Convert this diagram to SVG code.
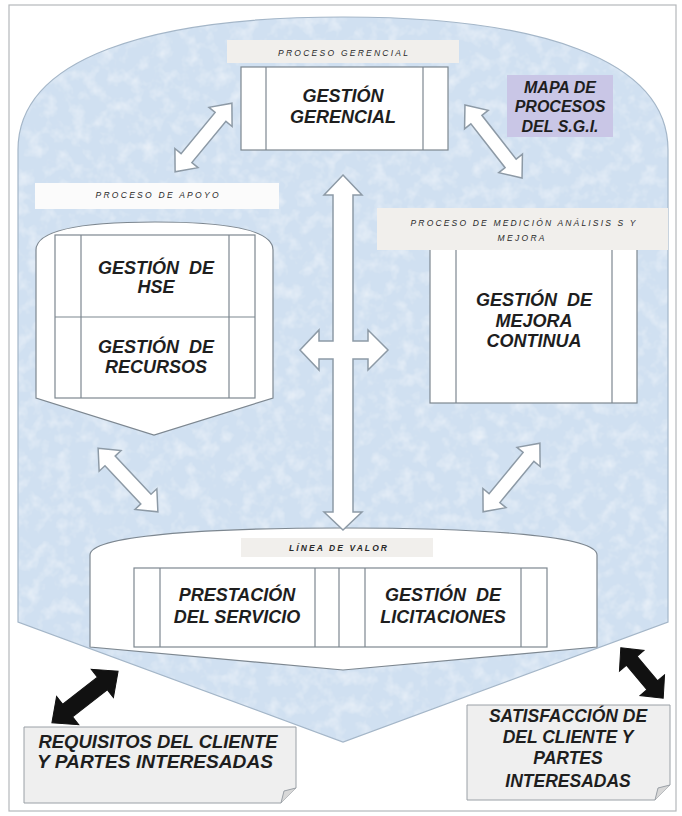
<svg xmlns="http://www.w3.org/2000/svg" width="682" height="816" viewBox="0 0 682 816">
<style>
.t{font-family:"Liberation Sans",Arial,sans-serif;font-weight:bold;font-style:italic;fill:#1e1e1e;text-anchor:middle}
.big{font-size:18px}
.lab{font-family:"Liberation Sans",Arial,sans-serif;font-style:italic;font-size:8.5px;fill:#2a2a2a;text-anchor:middle}
.box{fill:#ffffff;stroke:#7d8790;stroke-width:1.2}
.ln{stroke:#7d8790;stroke-width:1.2;fill:none}
.wa{fill:#ffffff;stroke:#8d9aa6;stroke-width:1.5;stroke-linejoin:miter}
.ba{fill:#111111;stroke:#111111;stroke-width:1}
.note{fill:#efefef;stroke:#9aa0a6;stroke-width:1}
.lbox{fill:#f1efec}
</style>
<defs>
<filter id="tex" x="0" y="0" width="1" height="1">
<feTurbulence type="fractalNoise" baseFrequency="0.07" numOctaves="3" seed="5" result="n"/>
<feColorMatrix in="n" type="matrix" values="0 0 0 0 1  0 0 0 0 1  0 0 0 0 1  0 0 0 0.9 -0.4" result="w"/>
<feComposite in="w" in2="SourceGraphic" operator="in" result="wm"/>
<feMerge><feMergeNode in="SourceGraphic"/><feMergeNode in="wm"/></feMerge>
</filter>
<path id="dblw" d="M-45,0 L-27,-15 L-27,-7 L27,-7 L27,-15 L45,0 L27,15 L27,7 L-27,7 L-27,15 Z"/>
</defs>

<rect x="0" y="0" width="682" height="816" fill="#ffffff"/>
<rect x="9" y="5" width="667" height="806" fill="none" stroke="#b5b8bb" stroke-width="1.2"/>

<g id="fondo">
<path d="M18,150 C18,58 150,17 343,17 C536,17 668,58 668,150 L668,622 L343,742 L18,622 Z" fill="#d0e0f1" filter="url(#tex)"/>
<path d="M18,150 C18,58 150,17 343,17 C536,17 668,58 668,150 L668,622 L343,742 L18,622 Z" fill="none" stroke="#a4b6c8" stroke-width="1.2"/>
</g>

<g id="mapa">
<rect x="507" y="75" width="106" height="62" fill="#c9c6e6"/>
<text class="t" x="560" y="93" font-size="16" fill="#1c1c3a">MAPA DE</text>
<text class="t" x="560" y="112" font-size="16" fill="#1c1c3a">PROCESOS</text>
<text class="t" x="560" y="132" font-size="16" fill="#1c1c3a">DEL S.G.I.</text>
</g>

<g id="gerencial">
<rect class="lbox" x="227" y="40" width="232" height="23"/>
<text class="lab" x="343" y="56" textLength="130" lengthAdjust="spacing">PROCESO GERENCIAL</text>
<rect class="box" x="241" y="67" width="207" height="83"/>
<line class="ln" x1="266" y1="67" x2="266" y2="150"/>
<line class="ln" x1="423" y1="67" x2="423" y2="150"/>
<text class="t big" x="343" y="102">GESTIÓN</text>
<text class="t big" x="343" y="123">GERENCIAL</text>
</g>

<g id="apoyo">
<rect x="35" y="183" width="244" height="26" fill="#fbfbfb"/>
<text class="lab" x="157" y="198" textLength="123" lengthAdjust="spacing">PROCESO DE APOYO</text>
<path class="box" d="M36,250 C36,228 90,222 155,222 C220,222 273,228 273,250 L273,398 L154,435 L36,398 Z"/>
<rect class="box" x="55" y="235" width="200" height="163"/>
<line class="ln" x1="81" y1="235" x2="81" y2="398"/>
<line class="ln" x1="229" y1="235" x2="229" y2="398"/>
<line class="ln" x1="55" y1="317" x2="255" y2="317"/>
<text class="t big" x="156" y="274" word-spacing="5">GESTIÓN DE</text>
<text class="t big" x="156" y="293">HSE</text>
<text class="t big" x="156" y="353" word-spacing="5">GESTIÓN DE</text>
<text class="t big" x="156" y="373">RECURSOS</text>
</g>

<g id="mejora">
<rect class="box" x="430" y="240" width="207" height="163"/>
<line class="ln" x1="456" y1="240" x2="456" y2="403"/>
<line class="ln" x1="612" y1="240" x2="612" y2="403"/>
<rect class="lbox" x="377" y="208" width="291" height="42"/>
<text class="lab" x="523" y="226" textLength="225" lengthAdjust="spacing">PROCESO DE MEDICIÓN ANÁLISIS S Y</text>
<text class="lab" x="521" y="241" textLength="47" lengthAdjust="spacing">MEJORA</text>
<text class="t big" x="534" y="306" word-spacing="5">GESTIÓN DE</text>
<text class="t big" x="534" y="327">MEJORA</text>
<text class="t big" x="534" y="347">CONTINUA</text>
</g>

<g id="linea-valor">
<path class="box" d="M90,555 C90,536 200,528 343,528 C486,528 597,536 597,555 L597,647 L343,670 L90,647 Z"/>
<rect class="lbox" x="241" y="538" width="192" height="19"/>
<text class="lab" x="338" y="551" font-weight="bold" textLength="98" lengthAdjust="spacing">LÍNEA DE VALOR</text>
<rect class="box" x="134" y="568" width="413" height="79"/>
<line class="ln" x1="160" y1="568" x2="160" y2="647"/>
<line class="ln" x1="315" y1="568" x2="315" y2="647"/>
<line class="ln" x1="339" y1="568" x2="339" y2="647"/>
<line class="ln" x1="365" y1="568" x2="365" y2="647"/>
<line class="ln" x1="521" y1="568" x2="521" y2="647"/>
<text class="t big" x="237" y="601">PRESTACIÓN</text>
<text class="t big" x="237" y="623">DEL SERVICIO</text>
<text class="t big" x="443" y="601" word-spacing="5">GESTIÓN DE</text>
<text class="t big" x="443" y="623">LICITACIONES</text>
</g>

<g id="requisitos">
<path class="note" d="M24,727 L296,727 L296,788 L281,803 L24,803 Z"/>
<path d="M296,788 L284,791 L281,803" fill="#d8d8d8" stroke="#9aa0a6" stroke-width="1"/>
<text class="t" x="158" y="748" font-size="18" textLength="239" lengthAdjust="spacingAndGlyphs">REQUISITOS DEL CLIENTE</text>
<text class="t" x="155" y="768" font-size="18" textLength="236" lengthAdjust="spacingAndGlyphs">Y PARTES INTERESADAS</text>
</g>

<g id="satisfaccion">
<path class="note" d="M467,705 L670,705 L670,785 L655,800 L467,800 Z"/>
<path d="M670,785 L658,788 L655,800" fill="#d8d8d8" stroke="#9aa0a6" stroke-width="1"/>
<text class="t" x="568" y="722" font-size="17.5">SATISFACCIÓN DE</text>
<text class="t" x="568" y="743" font-size="17.5">DEL CLIENTE Y</text>
<text class="t" x="568" y="764" font-size="17.5">PARTES</text>
<text class="t" x="568" y="787" font-size="17.5">INTERESADAS</text>
</g>

<g id="conectores">
<use href="#dblw" class="wa" transform="translate(203.5,137.5) rotate(-50.4) scale(0.99,1)"/>
<use href="#dblw" class="wa" transform="translate(493.5,141.5) rotate(52) scale(1.03,1)"/>
<use href="#dblw" class="wa" transform="translate(128,480) rotate(46.8) scale(0.97,1)"/>
<use href="#dblw" class="wa" transform="translate(511.5,477.5) rotate(-50.4) scale(0.99,1)"/>
<path class="wa" d="M343,175 L362,195 L353,195 L353,341 L368,341 L368,330 L388,350 L368,370 L368,359 L353,359 L353,512 L362,512 L343,530 L324,512 L333,512 L333,359 L319,359 L319,370 L300,350 L319,330 L319,341 L333,341 L333,195 L324,195 Z"/>
<path class="ba" transform="translate(85,697) rotate(-38)" d="M-42,0 L-22,-18 L-22,-8 L22,-8 L22,-18 L42,0 L22,18 L22,8 L-22,8 L-22,18 Z"/>
<path class="ba" transform="translate(642,673) rotate(50)" d="M-33,0 L-16,-16 L-16,-7 L16,-7 L16,-16 L33,0 L16,16 L16,7 L-16,7 L-16,16 Z"/>
</g>
</svg>
